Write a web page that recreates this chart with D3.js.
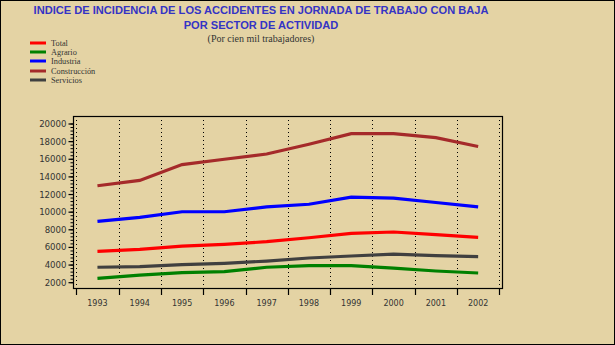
<!DOCTYPE html>
<meta charset="utf-8">
<head>
    <style>
        body {margin: 0; background: #fff;}
        svg {display: block;}
        .title {fill: #3434c4; font-family: "Liberation Sans", Arial, sans-serif; font-weight: bold; font-size: 11.1px;}
        .sub {fill: #333; font-family: "Liberation Serif", serif; font-size: 10px;}
        .legend text {fill: #333; font-family: "Liberation Serif", serif; font-size: 8.3px;}
        .tick text {fill: #333; font-family: "DejaVu Sans", sans-serif; font-size: 8px;}
    </style>
    <script src="https://d3js.org/d3.v7.min.js"></script>
</head>
<body>
<script>

    var years = ["1993","1994","1995","1996","1997","1998","1999","2000","2001","2002"];

    var total        = [5550, 5780, 6150, 6350, 6650, 7100, 7600, 7750, 7450, 7150];
    var agrario      = [2500, 2850, 3150, 3250, 3750, 3930, 3930, 3650, 3330, 3100];
    var industria    = [8950, 9400, 10050, 10050, 10600, 10900, 11700, 11600, 11100, 10600];
    var construccion = [13000, 13600, 15400, 16000, 16600, 17700, 18900, 18900, 18450, 17450];
    var servicios    = [3750, 3820, 4050, 4200, 4450, 4800, 5030, 5250, 5070, 4950];

    var yTicks = [2000, 4000, 6000, 8000, 10000, 12000, 14000, 16000, 18000, 20000];

    var series = [
        {name: "Total", values: total, color: "#ff0000"},
        {name: "Agrario", values: agrario, color: "#008000"},
        {name: "Industria", values: industria, color: "#0000ff"},
        {name: "Construcción", values: construccion, color: "#a52a2a"},
        {name: "Servicios", values: servicios, color: "#404040"}
    ];

    var width = 615, height = 345;

    var svg = d3.select("body").append("svg")
        .attr("width", width)
        .attr("height", height)

    svg.append("rect")
        .attr("x", 0.5).attr("y", 0.5)
        .attr("width", width - 1).attr("height", height - 1)
        .attr("fill", "#e4d3a4")
        .attr("stroke", "#000")

    // titles
    svg.append("text").attr("class", "title")
        .attr("x", 261).attr("y", 14).attr("text-anchor", "middle")
        .text("INDICE DE INCIDENCIA DE LOS ACCIDENTES EN JORNADA DE TRABAJO CON BAJA")
    svg.append("text").attr("class", "title")
        .attr("x", 261).attr("y", 29).attr("text-anchor", "middle")
        .text("POR SECTOR DE ACTIVIDAD")
    svg.append("text").attr("class", "sub")
        .attr("x", 261).attr("y", 42).attr("text-anchor", "middle")
        .text("(Por cien mil trabajadores)")

    // legend
    var legend = svg.append("g").attr("class", "legend")
        .selectAll("g")
        .data(series)
      .enter().append("g")
        .attr("transform", function(d, i) {return "translate(30," + [43, 52, 61, 71, 80][i] + ")"})

    legend.append("line")
        .attr("x1", 0).attr("x2", 16)
        .attr("stroke", function(d) {return d.color})
        .attr("stroke-width", 3)
    legend.append("text")
        .attr("x", 21).attr("y", 3)
        .text(function(d) {return d.name})

    // scales
    var x = d3.scaleBand()
        .domain(years)
        .range([76.3, 499.3]);

    var y = d3.scaleLinear()
        .domain([2000, 20000])
        .range([282.7, 124]);

    var frame = {left: 73, right: 502, top: 116, bottom: 288};

    // dotted verticals at band edges
    var edges = years.map(function(d) {return x(d)}).concat([x.range()[1]]);
    svg.append("g").selectAll("line")
        .data(edges)
      .enter().append("line")
        .attr("x1", function(d) {return Math.round(d) + 0.5})
        .attr("x2", function(d) {return Math.round(d) + 0.5})
        .attr("y1", frame.top).attr("y2", frame.bottom)
        .attr("stroke", "#000")
        .attr("stroke-dasharray", "1,3")

    // frame
    svg.append("rect")
        .attr("x", frame.left + 0.5).attr("y", frame.top + 0.5)
        .attr("width", frame.right - frame.left).attr("height", frame.bottom - frame.top)
        .attr("fill", "none")
        .attr("stroke", "#000")
        .attr("stroke-width", 1.2)

    // y axis: major + minor ticks
    var yAxis = svg.append("g")
        .attr("transform", "translate(" + (frame.left + 0.5) + ",0)")
    yAxis.selectAll("line.minor")
        .data(d3.range(2000, 20001, 400))
      .enter().append("line")
        .attr("class", "minor")
        .attr("x1", -3).attr("x2", 0)
        .attr("y1", function(d) {return y(d)}).attr("y2", function(d) {return y(d)})
        .attr("stroke", "#000")
    var yt = yAxis.selectAll("g.tick")
        .data(yTicks)
      .enter().append("g")
        .attr("class", "tick")
        .attr("transform", function(d) {return "translate(0," + y(d) + ")"})
    yt.append("line").attr("x1", -5).attr("x2", 0).attr("stroke", "#000").attr("stroke-width", 1.2)
    yt.append("text")
        .attr("x", -7).attr("dy", "0.35em")
        .attr("text-anchor", "end")
        .style("font-size", "8.6px")
        .text(function(d) {return d})

    // x axis ticks at band edges, labels in band centres
    var xAxis = svg.append("g")
        .attr("transform", "translate(0," + frame.bottom + ")")
    xAxis.selectAll("line")
        .data(edges)
      .enter().append("line")
        .attr("x1", function(d) {return Math.round(d) + 0.5})
        .attr("x2", function(d) {return Math.round(d) + 0.5})
        .attr("y1", 0).attr("y2", 7)
        .attr("stroke", "#000")
        .attr("stroke-width", 1.2)
    xAxis.selectAll("g.tick")
        .data(years)
      .enter().append("g")
        .attr("class", "tick")
        .attr("transform", function(d) {return "translate(" + (x(d) + x.bandwidth() / 2) + ",0)"})
      .append("text")
        .attr("y", 18)
        .attr("text-anchor", "middle")
        .text(function(d) {return d})

    // series lines
    var line = d3.line()
        .x(function(d, i) {return x(years[i]) + x.bandwidth() / 2})
        .y(function(d) {return y(d)})

    svg.append("g").selectAll("path")
        .data(series)
      .enter().append("path")
        .attr("d", function(d) {return line(d.values)})
        .attr("fill", "none")
        .attr("stroke", function(d) {return d.color})
        .attr("stroke-width", 3.2)

</script>
</body>
